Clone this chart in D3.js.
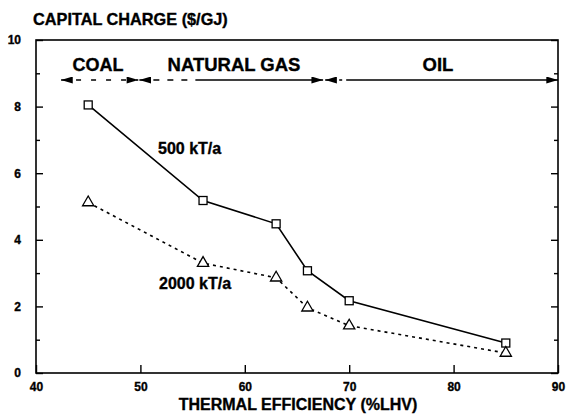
<!DOCTYPE html>
<html><head><meta charset="utf-8">
<script src="https://cdn.jsdelivr.net/npm/d3@7"></script>
<style>body{margin:0;background:#fff}svg{display:block}text{font-family:"Liberation Sans",Arial,sans-serif;font-weight:bold;fill:#000;stroke:#000;stroke-width:0.35px}</style>
</head><body><svg id="c" width="566" height="414"></svg>
<script>
const efficiency500 = [45, 56, 63, 66, 70, 85];
const charge500 = [8.05, 5.18, 4.48, 3.07, 2.17, 0.9];
const efficiency2000 = [45, 56, 63, 66, 70, 85];
const charge2000 = [5.12, 3.3, 2.86, 1.96, 1.42, 0.6];
const xTicks = [40, 50, 60, 70, 80, 90];
const yTicks = [0, 2, 4, 6, 8, 10];
const yMinor = [1, 3, 5, 7, 9];
const regions = ["COAL", "NATURAL GAS", "OIL"];
const regionStart = [42.4, 49.9, 67.7];
const regionEnd = [49.8, 67.5, 90];

const FONT = '"Liberation Sans",Arial,sans-serif';
const svg = d3.select("#c");
const L = 36, R = 558, T = 40, B = 373;
const x = d3.scaleLinear().domain([40, 90]).range([L, R]);
const y = d3.scaleLinear().domain([0, 10]).range([B, T]);

// frame
svg.append("rect").attr("x", L).attr("y", T).attr("width", R - L).attr("height", B - T)
  .attr("fill", "none").attr("stroke", "#000").attr("stroke-width", 1.6);

function styleAxis(g, size) {
  g.select(".domain").remove();
  g.selectAll("line").attr("stroke", "#000").attr("stroke-width", 1.4);
  g.selectAll("text").style("font-size", size).style("font-family", FONT).style("font-weight", "bold");
}
// x axis ticks (inward) and labels
const xa = svg.append("g").attr("transform", `translate(0,${B})`)
  .call(d3.axisBottom(x).tickValues(xTicks).tickSize(-8).tickPadding(9).tickFormat(d3.format("d")));
styleAxis(xa, "12px");

// y axis left
const ya = svg.append("g").attr("transform", `translate(${L},0)`)
  .call(d3.axisLeft(y).tickValues(yTicks).tickSize(-7).tickPadding(15).tickFormat(d3.format("d")));
styleAxis(ya, "12px");
const yam = svg.append("g").attr("transform", `translate(${L},0)`)
  .call(d3.axisLeft(y).tickValues(yMinor).tickSize(-4).tickFormat(""));
styleAxis(yam, "12px");
// y axis right
const yr = svg.append("g").attr("transform", `translate(${R},0)`)
  .call(d3.axisRight(y).tickValues(yTicks).tickSize(-7).tickFormat(""));
styleAxis(yr, "12px");
const yrm = svg.append("g").attr("transform", `translate(${R},0)`)
  .call(d3.axisRight(y).tickValues(yMinor).tickSize(-4).tickFormat(""));
styleAxis(yrm, "12px");

// titles
svg.append("text").attr("x", 33).attr("y", 25).style("font-size", "16.3px").text("CAPITAL CHARGE ($/GJ)");
svg.append("text").attr("x", 298).attr("y", 410).attr("text-anchor", "middle").style("font-size", "16px").text("THERMAL EFFICIENCY (%LHV)");

// regions
const ay = 80;
const defs = svg.append("defs");
function head(id, dir) {
  const m = defs.append("marker").attr("id", id).attr("viewBox", "0 0 10 6").attr("refX", dir > 0 ? 10 : 0).attr("refY", 3)
    .attr("markerWidth", 15).attr("markerHeight", 7).attr("markerUnits", "userSpaceOnUse").attr("orient", "0");
  m.append("path").attr("d", dir > 0 ? "M0,0L10,3L0,6Z" : "M10,0L0,3L10,6Z").attr("fill", "#000");
}
head("ar", 1); head("al", -1);
const dashes = ["5,10", "6,8,6,8,6,8,6,8,400", "3,4,3,4,3,4,400"];
regions.forEach((r, i) => {
  const x1 = x(regionStart[i]), x2 = x(regionEnd[i]);
  svg.append("line").attr("x1", x1).attr("x2", x2).attr("y1", ay).attr("y2", ay)
    .attr("stroke", "#000").attr("stroke-width", 1.4)
    .attr("stroke-dasharray", dashes[i])
    .attr("marker-start", "url(#al)").attr("marker-end", "url(#ar)");
});
svg.append("text").attr("x", 98).attr("y", 71).attr("text-anchor", "middle").style("font-size", "18px").text(regions[0]);
svg.append("text").attr("x", 234).attr("y", 71).attr("text-anchor", "middle").style("font-size", "18.5px").text(regions[1]);
svg.append("text").attr("x", 438).attr("y", 71).attr("text-anchor", "middle").style("font-size", "18.5px").text(regions[2]);

// series
const s500 = efficiency500.map((e, i) => [e, charge500[i]]);
const s2000 = efficiency2000.map((e, i) => [e, charge2000[i]]);
const line = d3.line().x(d => x(d[0])).y(d => y(d[1]));
svg.append("path").datum(s500).attr("d", line).attr("fill", "none").attr("stroke", "#000").attr("stroke-width", 1.6);
svg.append("path").datum(s2000).attr("d", line).attr("fill", "none").attr("stroke", "#000").attr("stroke-width", 1.6).attr("stroke-dasharray", "3,4");

svg.selectAll(".sq").data(s500).enter().append("rect")
  .attr("x", d => x(d[0]) - 4).attr("y", d => y(d[1]) - 4).attr("width", 8).attr("height", 8)
  .attr("fill", "#fff").attr("stroke", "#000").attr("stroke-width", 1.3);
const tri = d3.symbol().type(d3.symbolTriangle).size(55);
svg.selectAll(".tr").data(s2000).enter().append("path")
  .attr("transform", d => `translate(${x(d[0])},${y(d[1])})`).attr("d", tri)
  .attr("fill", "#fff").attr("stroke", "#000").attr("stroke-width", 1.3);

svg.append("text").attr("x", 158).attr("y", 154).style("font-size", "16px").text("500 kT/a");
svg.append("text").attr("x", 159).attr("y", 289).style("font-size", "16px").text("2000 kT/a");
</script></body></html>
